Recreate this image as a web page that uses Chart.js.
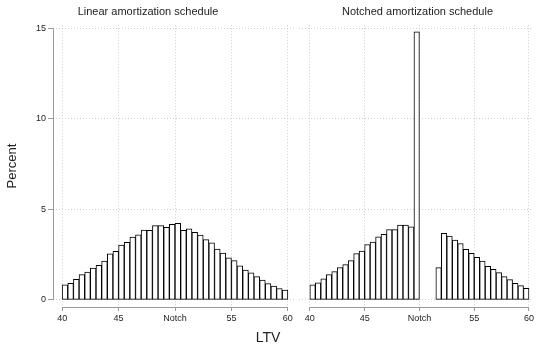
<!DOCTYPE html>
<html lang="en">
<head>
    <meta charset="UTF-8">
    <script src="https://cdn.jsdelivr.net/npm/chart.js"></script>
    <title>LTV</title>
    <style>
        body { margin: 0; width: 536px; height: 344px; position: relative; background: #fff; overflow: hidden;
               font-family: "Liberation Sans", Arial, sans-serif; }
        #grafico_linear { position: absolute; left: 0; top: 0; }
        #grafico_notch { position: absolute; left: 299px; top: 0; }
        #ltv { position: absolute; left: 0; width: 536px; top: 330px; text-align: center; font-size: 14px;
               line-height: 15px; color: #222; }
    </style>
</head>
<body>
    <canvas id="grafico_linear" width="296" height="344"></canvas>
    <canvas id="grafico_notch" width="237" height="344"></canvas>
    <div id="ltv">LTV</div>

<script>
    // inicio de cada faixa de LTV (largura 0.5)
    const faixas = [40, 40.5, 41, 41.5, 42, 42.5, 43, 43.5, 44, 44.5,
                    45, 45.5, 46, 46.5, 47, 47.5, 48, 48.5, 49, 49.5,
                    50, 50.5, 51, 51.5, 52, 52.5, 53, 53.5, 54, 54.5,
                    55, 55.5, 56, 56.5, 57, 57.5, 58, 58.5, 59, 59.5];

    const linear = [0.83, 0.92, 1.14, 1.40, 1.54, 1.76, 1.91, 2.15, 2.54, 2.68,
                    3.03, 3.18, 3.47, 3.60, 3.86, 3.84, 4.10, 4.10, 4.01, 4.17,
                    4.23, 3.84, 3.93, 3.73, 3.58, 3.33, 3.16, 2.81, 2.59, 2.33,
                    2.17, 1.88, 1.65, 1.49, 1.29, 1.10, 0.90, 0.77, 0.63, 0.55];

    const notched = [0.83, 0.94, 1.16, 1.40, 1.56, 1.78, 1.95, 2.17, 2.56, 2.70,
                     3.05, 3.20, 3.49, 3.62, 3.88, 3.88, 4.14, 4.14, 4.04, 14.8,
                     null, null, null, 1.78, 3.68, 3.53, 3.31, 3.11, 2.79, 2.57,
                     2.35, 2.15, 1.86, 1.69, 1.51, 1.29, 1.12, 0.92, 0.79, 0.64];

    const ticksX = [40, 45, 50, 55, 60];
    const ticksY = [0, 5, 10, 15];

    const fonte = '"Liberation Sans", Arial, sans-serif';
    const corGrade = '#cfcfcf';
    const corEixo = '#9a9a9a';

    // linhas dos eixos so entre 40-60 e 0-15, como no original
    const eixos = {
        id: 'eixos',
        afterDraw(chart, args, opts) {
            const ctx = chart.ctx, x = chart.scales.x, y = chart.scales.y, area = chart.chartArea;
            ctx.save();
            ctx.strokeStyle = corEixo;
            ctx.lineWidth = 1;
            ctx.beginPath();
            ctx.moveTo(x.getPixelForValue(40), area.bottom + 0.5);
            ctx.lineTo(x.getPixelForValue(60), area.bottom + 0.5);
            if (opts.eixoY) {
                ctx.moveTo(area.left + 0.5, y.getPixelForValue(0));
                ctx.lineTo(area.left + 0.5, y.getPixelForValue(15));
            }
            ctx.stroke();
            ctx.restore();
        }
    };

    function config(titulo, valores, xmin, xmax, comEixoY) {
        return {
            type: 'bar',
            data: {
                datasets: [{
                    data: faixas.map((f, i) => ({ x: f + 0.25, y: valores[i] })),
                    backgroundColor: '#ffffff',
                    borderColor: '#000000',
                    borderWidth: 1,
                    borderSkipped: false,
                    barPercentage: 1,
                    categoryPercentage: 1
                }]
            },
            options: {
                responsive: false,
                animation: false,
                layout: { padding: 0 },
                plugins: {
                    legend: { display: false },
                    tooltip: { enabled: false },
                    title: {
                        display: true,
                        text: titulo,
                        color: '#222',
                        font: { family: fonte, size: 11, weight: 'normal' },
                        padding: { top: 5, bottom: 7 }
                    },
                    eixos: { eixoY: comEixoY }
                },
                scales: {
                    x: {
                        type: 'linear',
                        min: xmin,
                        max: xmax,
                        offset: false,
                        afterBuildTicks: s => { s.ticks = ticksX.map(v => ({ value: v })); },
                        afterFit: s => { s.height = 37; },
                        border: { display: false, dash: [1, 2] },
                        grid: {
                            offset: false,
                            color: corGrade,
                            tickColor: corEixo,
                            tickBorderDash: [],
                            tickLength: 4
                        },
                        ticks: {
                            autoSkip: false,
                            maxRotation: 0,
                            padding: 2,
                            color: '#222',
                            font: { family: fonte, size: 9 },
                            callback: v => v === 50 ? 'Notch' : v
                        }
                    },
                    y: {
                        min: -0.39,
                        max: 15.17,
                        afterBuildTicks: s => { s.ticks = ticksY.map(v => ({ value: v })); },
                        afterFit: s => { s.width = comEixoY ? 53 : 0; },
                        border: { display: false, dash: [1, 2] },
                        grid: {
                            color: corGrade,
                            tickColor: corEixo,
                            tickBorderDash: [],
                            tickLength: 5,
                            drawTicks: comEixoY
                        },
                        ticks: {
                            display: comEixoY,
                            padding: 2,
                            color: '#222',
                            font: { family: fonte, size: 9 }
                        },
                        title: {
                            display: comEixoY,
                            text: 'Percent',
                            color: '#222',
                            font: { family: fonte, size: 13 },
                            padding: { top: 5, bottom: 0 }
                        }
                    }
                }
            },
            plugins: [eixos]
        };
    }

    const grafico_linear = new Chart(
        document.getElementById('grafico_linear'),
        config('Linear amortization schedule', linear, 39.19, 60.72, true)
    );

    const grafico_notch = new Chart(
        document.getElementById('grafico_notch'),
        config('Notched amortization schedule', notched, 39.01, 60.36, false)
    );
</script>
</body>
</html>
